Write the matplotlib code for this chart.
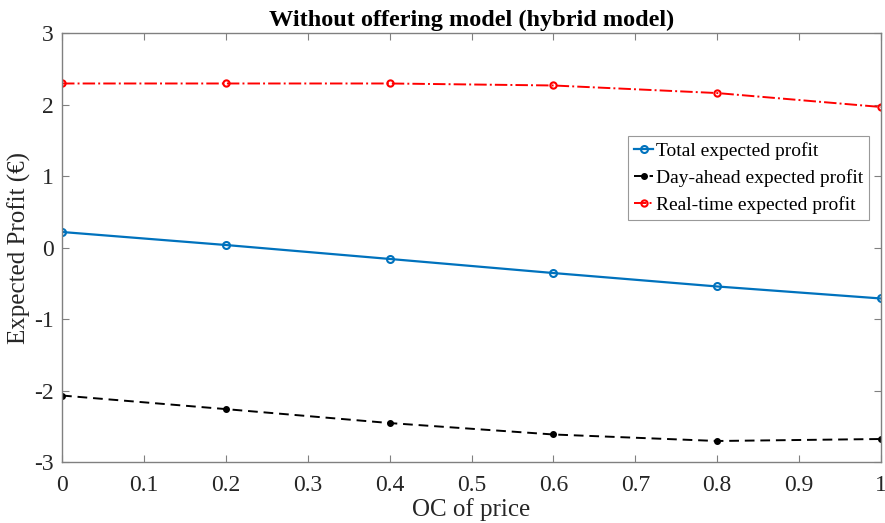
import matplotlib
matplotlib.use("Agg")
import matplotlib.pyplot as plt

plt.rcParams["font.family"] = ["Liberation Serif", "DejaVu Serif"]
plt.rcParams["axes.unicode_minus"] = False

oc = [0, 0.2, 0.4, 0.6, 0.8, 1.0]
total_profit = [0.217, 0.035, -0.160, -0.357, -0.545, -0.713]
day_ahead_profit = [-2.07, -2.26, -2.455, -2.615, -2.706, -2.678]
real_time_profit = [2.294, 2.294, 2.294, 2.266, 2.160, 1.965]

x_ticks = [0, 0.1, 0.2, 0.3, 0.4, 0.5, 0.6, 0.7, 0.8, 0.9, 1]
x_ticklabels = ["0", "0.1", "0.2", "0.3", "0.4", "0.5", "0.6", "0.7", "0.8", "0.9", "1"]
y_ticks = [-3, -2, -1, 0, 1, 2, 3]

fig = plt.figure(figsize=(8.85, 5.23), dpi=100)
ax = fig.add_axes([0.0701, 0.1166, 0.9254, 0.8203])

ax.plot(oc, total_profit, "-o", color="#0072BD", lw=1.6, ms=5,
        mfc="none", mew=1.5, label="Total expected profit")
ax.plot(oc, day_ahead_profit, "--o", color="black", lw=1.4, ms=4,
        mfc="black", label="Day-ahead expected profit", dashes=(5, 3))
ax.plot(oc, real_time_profit, "-.o", color="red", lw=1.4, ms=4.5,
        mfc="none", mew=1.5, label="Real-time expected profit")

ax.set_xlim(0, 1)
ax.set_ylim(-3, 3)
ax.set_xticks(x_ticks)
ax.set_xticklabels(x_ticklabels)
ax.set_yticks(y_ticks)

ax.tick_params(direction="in", top=True, right=True, length=5,
               color="#808080", labelsize=17, labelcolor="#262626")
ax.tick_params(axis="x", pad=9)
ax.tick_params(axis="y", pad=6)
for s in ax.spines.values():
    s.set_color("#808080")
    s.set_linewidth(1.0)

ax.set_xlabel("OC of price", fontsize=18, color="#262626", labelpad=2)
ax.set_ylabel("Expected Profit (€)", fontsize=18, color="#262626")
ax.yaxis.set_label_coords(-0.038, 0.5)
ax.set_title("Without offering model (hybrid model)", fontsize=17.5,
             fontweight="bold", pad=5)

leg = ax.legend(loc="upper left", bbox_to_anchor=(0.691, 0.760), fontsize=14,
                frameon=True, fancybox=False, borderpad=0.3, labelspacing=0.48,
                handlelength=1.0, handletextpad=0.15, borderaxespad=0)
leg.get_frame().set_edgecolor("#808080")
leg.get_frame().set_linewidth(0.8)

fig.savefig("out.png", dpi=100)
